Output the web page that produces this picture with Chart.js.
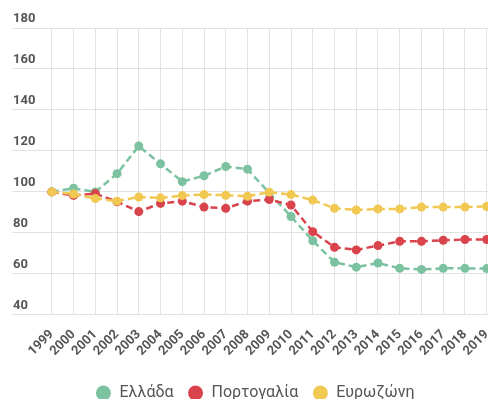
<!DOCTYPE html>
<html>
<head>
<meta charset="utf-8">
<script src="https://cdn.jsdelivr.net/npm/chart.js@4/dist/chart.umd.min.js"></script>
<style>
  html, body { margin: 0; padding: 0; background: #fff; overflow: hidden; }
  #wrap { position: relative; width: 510px; height: 411px; }
</style>
</head>
<body>
<div id="wrap"><canvas id="chart"></canvas></div>
<script>
// Years on the horizontal axis
const years = [1999, 2000, 2001, 2002, 2003, 2004, 2005, 2006, 2007, 2008, 2009,
               2010, 2011, 2012, 2013, 2014, 2015, 2016, 2017, 2018, 2019];

// Index values (1999 = 100)
const greece = [100, 101.8, 100, 108.9, 122.4, 113.7, 105, 107.9, 112.4, 111.1, 99.5,
                88, 76.2, 65.7, 63.3, 65.3, 62.7, 62.2, 62.7, 62.7, 62.6];
const portugal = [100, 98.3, 99.2, 95.2, 90.4, 94.4, 95.5, 92.6, 92, 95.5, 96.3,
                  93.6, 80.6, 73, 71.7, 73.8, 75.9, 75.9, 76.4, 76.8, 76.8];
const eurozone = [100, 99, 96.8, 95.5, 97.5, 97.1, 98.2, 98.7, 98.4, 97.9, 99.9,
                  98.7, 96, 92, 91.2, 91.7, 91.7, 92.6, 92.6, 92.6, 92.9];

// Vertical axis ticks
const yTicks = [40, 60, 80, 100, 120, 140, 160, 180];

const seriesNames = ['Ελλάδα', 'Πορτογαλία', 'Ευρωζώνη'];
const seriesColors = ['#7cc2a1', '#d9434c', '#f1c852'];
const seriesValues = [greece, portugal, eurozone];

const datasets = seriesNames.map((name, i) => ({
  label: name,
  data: years.map((y, j) => ({ x: y, y: seriesValues[i][j] })),
  borderColor: seriesColors[i],
  backgroundColor: seriesColors[i],
  borderWidth: 2.5,
  borderDash: [7, 4],
  pointRadius: 4.5,
  pointHoverRadius: 4.5,
  pointBorderWidth: 0,
  tension: 0,
  fill: false
})).reverse();

new Chart(document.getElementById('chart'), {
  type: 'line',
  data: { datasets },
  options: {
    responsive: true,
    maintainAspectRatio: false,
    animation: false,
    layout: { padding: { left: 10, right: 10, top: 28, bottom: 0 } },
    plugins: {
      tooltip: { enabled: false },
      legend: {
        position: 'bottom',
        reverse: true,
        labels: {
          usePointStyle: true,
          pointStyle: 'circle',
          boxWidth: 16,
          boxHeight: 10.6,
          padding: 14,
          color: '#555',
          font: { family: 'Roboto', size: 16 }
        }
      }
    },
    scales: {
      x: {
        type: 'linear',
        min: 1997.17,
        max: 2019.54,
        afterBuildTicks: (scale) => { scale.ticks = years.map(v => ({ value: v })); },
        border: { display: false },
        grid: { color: '#e2e2e2', lineWidth: 1, drawTicks: false },
        ticks: {
          autoSkip: false,
          minRotation: 45,
          maxRotation: 45,
          padding: 12,
          color: '#555',
          font: { family: 'Roboto', size: 13, weight: 'bold' },
          callback: (v) => String(v)
        }
      },
      y: {
        min: 40,
        max: 180,
        afterBuildTicks: (scale) => { scale.ticks = yTicks.map(v => ({ value: v })); },
        border: { display: false },
        grid: { color: '#e2e2e2', lineWidth: 1, drawTicks: false },
        ticks: {
          mirror: true,
          padding: 1,
          labelOffset: -9,
          color: '#555',
          font: { family: 'Roboto', size: 13, weight: 'bold' }
        }
      }
    }
  }
});
</script>
</body>
</html>
